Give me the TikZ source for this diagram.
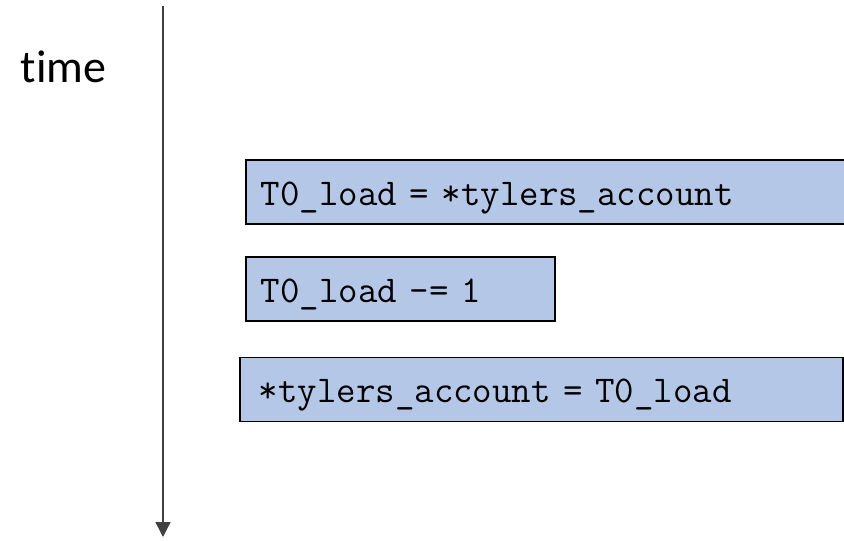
\documentclass[tikz,border=0pt]{standalone}
\usepackage{fontspec}
\setmainfont{Carlito}[Ligatures=CommonOff]
\usetikzlibrary{arrows.meta,positioning}
\definecolor{boxblue}{HTML}{B4C7E7}
\definecolor{linegray}{HTML}{404040}
\tikzset{
  codebox/.style={draw=black, line width=1.6pt, fill=boxblue, anchor=west,
    minimum height=64pt, inner xsep=15pt, inner ysep=0pt, align=left,
    text height=26pt, text depth=0pt,
    font=\ttfamily\fontsize{37.8}{38}\selectfont},
  timeline/.style={draw=linegray, line width=1.4pt,
    -{Triangle[width=15pt,length=15pt]}}
}
\begin{document}
\begin{tikzpicture}[x=1pt,y=-1pt]
          \useasboundingbox (0,0) rectangle (844,541);
          %%% the time axis
          \node[font=\fontsize{46}{46}\selectfont, anchor=base] (time) at (63.5, 82) {time};
          \coordinate (ttop) at (163, 6);
          \coordinate (tbot) at (163, 537);
          \draw[timeline] (ttop) -- (tbot);
          %%% the three steps of the decrement
          \node[codebox, text width=585pt] (load) at (245, 192) {T0\_load = *tylers\_account};
          \node[codebox, text width=279pt] (dec) at (245, 289) {T0\_load -= 1};
          \node[codebox, text width=565pt, inner xsep=19pt] (store) at (239, 389.5) {*tylers\_account = T0\_load};
          % \draw[->] (load) -- (dec);
\end{tikzpicture}
\end{document}
